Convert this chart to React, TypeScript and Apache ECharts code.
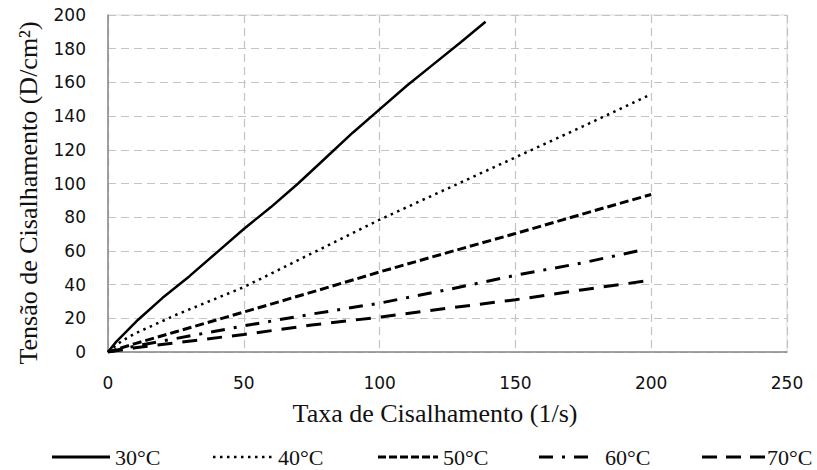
import React, { useEffect, useRef } from "react";
import * as echarts from "echarts";

const seriesNames = ["30°C", "40°C", "50°C", "60°C", "70°C"];

const rate30 = [0, 3, 11, 20, 30, 40, 50, 60, 70, 80, 90, 100, 110, 120, 130, 139];
const stress30 = [0, 6, 19, 32, 45, 59, 73, 86, 100, 115, 130, 144, 158, 171, 184, 196];

const rate40 = [0, 5, 10, 25, 50, 75, 100, 125, 150, 175, 200];
const stress40 = [0, 6.5, 11, 22, 38.5, 58.5, 78.5, 97, 115.5, 134, 153];

const rate50 = [0, 10, 25, 50, 75, 100, 125, 150, 175, 200];
const stress50 = [0, 5, 12, 23.7, 35.5, 47.5, 59, 70.3, 82, 93.5];

const rate60 = [0, 10, 25, 50, 75, 100, 125, 150, 175, 198];
const stress60 = [0, 3.5, 8, 15.5, 22.5, 29, 37, 45.5, 53, 61];

const rate70 = [0, 10, 25, 50, 75, 100, 125, 150, 175, 200];
const stress70 = [0, 2.5, 5.5, 10.4, 16, 20.7, 26, 31, 37, 42.6];

const xTitle = "Taxa de Cisalhamento (1/s)";
const yTitle = "Tensão de Cisalhamento (D/cm²)";

const pair = (xs: number[], ys: number[]) => xs.map((x, i) => [x, ys[i]]);

export default function App() {
  const ref = useRef<HTMLDivElement>(null);
  useEffect(() => {
    if (!ref.current) return;
    const chart = echarts.init(ref.current, null, { renderer: "svg" });
    const serif = "'Liberation Serif', 'Times New Roman', serif";
    const sans = "'DejaVu Sans', Verdana, sans-serif";
    const styles: any[] = [
      { width: 2.5, type: "solid" },
      { width: 2.5, type: [2.5, 4.5] },
      { width: 3, type: [9, 4] },
      { width: 3, type: [14, 9, 3, 9] },
      { width: 3, type: [15, 10] },
    ];
    const legendDash: any[] = [null, [2.5, 4.5], [8, 3], [14, 9, 3, 9], [15, 9]];
    const legendLine = [
      [52, 110, 115],
      [213, 272, 278],
      [378, 438, 443],
      [539, 588, 605],
      [702, 765, 767],
    ];
    const datasets = [
      pair(rate30, stress30),
      pair(rate40, stress40),
      pair(rate50, stress50),
      pair(rate60, stress60),
      pair(rate70, stress70),
    ];
    const legendGraphics: any[] = [];
    seriesNames.forEach((name, i) => {
      const [x1, x2, tx] = legendLine[i];
      legendGraphics.push({
        type: "line",
        shape: { x1, y1: 457, x2, y2: 457 },
        style: {
          stroke: "#000",
          lineWidth: i === 1 ? 2.5 : 3,
          lineDash: legendDash[i] || undefined,
        },
      });
      legendGraphics.push({
        type: "text",
        x: tx,
        y: 457,
        style: {
          text: name,
          font: `22px ${serif}`,
          fill: "#111",
          textAlign: "left",
          textVerticalAlign: "middle",
        },
      });
    });
    chart.setOption({
      animation: false,
      backgroundColor: "#fff",
      grid: {
        left: 108,
        right: 30,
        top: 15,
        bottom: 118,
        show: true,
        borderColor: "#d9d9d9",
        borderWidth: 1,
      },
      xAxis: {
        type: "value",
        min: 0,
        max: 250,
        interval: 50,
        axisLine: { show: true, lineStyle: { color: "#888", width: 1.5 } },
        axisTick: { show: false },
        axisLabel: { margin: 22, color: "#111", fontFamily: sans, fontSize: 17 },
        splitLine: { show: true, lineStyle: { color: "#c4c4c4", type: [8, 5], width: 1.2 } },
      },
      yAxis: {
        type: "value",
        min: 0,
        max: 200,
        interval: 20,
        axisLine: { show: true, lineStyle: { color: "#888", width: 1.5 } },
        axisTick: { show: false },
        axisLabel: { margin: 22, color: "#111", fontFamily: sans, fontSize: 17 },
        splitLine: { show: true, lineStyle: { color: "#c4c4c4", type: [8, 5], width: 1.2 } },
      },
      graphic: [
        {
          type: "text",
          x: 435,
          y: 413,
          style: {
            text: xTitle,
            font: `26px ${serif}`,
            fill: "#111",
            textAlign: "center",
            textVerticalAlign: "middle",
          },
        },
        {
          type: "text",
          x: 28,
          y: 193,
          rotation: Math.PI / 2,
          style: {
            text: yTitle,
            font: `26px ${serif}`,
            fill: "#111",
            textAlign: "center",
            textVerticalAlign: "middle",
          },
        },
        ...legendGraphics,
      ],
      series: datasets.map((d, i) => ({
        name: seriesNames[i],
        type: "line",
        data: d,
        showSymbol: false,
        symbol: "none",
        smooth: false,
        lineStyle: { color: "#000", ...styles[i] },
        itemStyle: { color: "#000" },
      })),
    });
    return () => chart.dispose();
  }, []);
  return <div ref={ref} style={{ width: 817, height: 470, position: "absolute", left: 0, top: 0 }} />;
}
